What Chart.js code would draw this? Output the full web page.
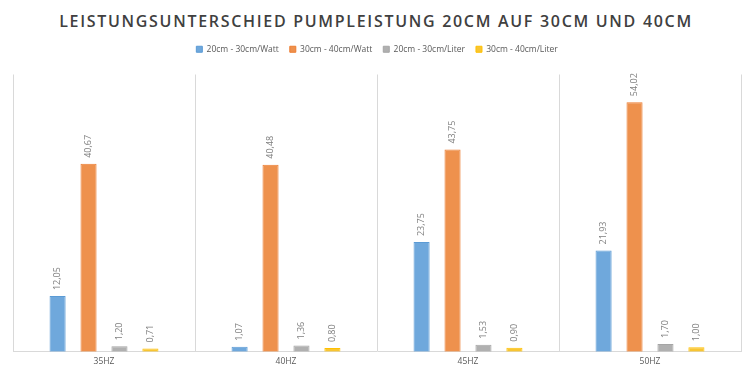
<!DOCTYPE html>
<html>
<head>
<meta charset="utf-8">
<script src="https://cdn.jsdelivr.net/npm/chart.js@4.4.1/dist/chart.umd.min.js"></script>
<style>
  body { margin: 0; background: #fff; }
  #title {
    height: 30px; line-height: 42px; text-align: center;
    font-family: "Open Sans", sans-serif; font-size: 16px; font-weight: 600; letter-spacing: 1.7px;
    color: #404040;
  }
  #wrap { position: relative; width: 752px; height: 342px; }
</style>
</head>
<body>
<div id="title">LEISTUNGSUNTERSCHIED PUMPLEISTUNG 20CM AUF 30CM UND 40CM</div>
<div id="wrap"><canvas id="myChart"></canvas></div>
<script>
const categories = ['35HZ', '40HZ', '45HZ', '50HZ'];
const seriesNames = ['20cm - 30cm/Watt', '30cm - 40cm/Watt', '20cm - 30cm/Liter', '30cm - 40cm/Liter'];
const watt20_30 = [12.05, 1.07, 23.75, 21.93];
const watt30_40 = [40.67, 40.48, 43.75, 54.02];
const liter20_30 = [1.20, 1.36, 1.53, 1.70];
const liter30_40 = [0.71, 0.80, 0.90, 1.00];
const fills = ['#6FA8DC', '#EE914D', '#B0B0B0', '#F8C532'];
const borders = ['#5B9BD5', '#ED7D31', '#A5A5A5', '#FFC000'];

// values above bars, rotated, with german comma
const barLabels = {
  id: 'barLabels',
  afterDatasetsDraw(chart) {
    const ctx = chart.ctx;
    ctx.save();
    ctx.font = '9px "Open Sans", sans-serif';
    ctx.fillStyle = '#7f7f7f';
    ctx.textAlign = 'left';
    ctx.textBaseline = 'middle';
    chart.data.datasets.forEach((ds, i) => {
      chart.getDatasetMeta(i).data.forEach((bar, j) => {
        ctx.save();
        ctx.translate(bar.x, bar.y - 6);
        ctx.rotate(-Math.PI / 2);
        ctx.fillText(ds.data[j].toFixed(2).replace('.', ','), 0, 0);
        ctx.restore();
      });
    });
    ctx.restore();
  }
};

// extra space under the legend
const legendGap = {
  id: 'legendGap',
  beforeInit(chart) {
    const fit = chart.legend.fit;
    chart.legend.fit = function () {
      fit.bind(chart.legend)();
      this.height += 11;
    };
  }
};

const series = [watt20_30, watt30_40, liter20_30, liter30_40];
const dataset = {
  labels: categories,
  datasets: series.map((d, i) => ({
    label: seriesNames[i],
    data: d,
    backgroundColor: fills[i],
    borderColor: borders[i],
    borderWidth: 1,
    categoryPercentage: 0.68,
    barPercentage: 0.52
  }))
};

const config = {
  type: 'bar',
  data: dataset,
  options: {
    responsive: true,
    maintainAspectRatio: false,
    animation: false,
    layout: { padding: { left: 13, right: 11, top: 4, bottom: 0 } },
    plugins: {
      tooltip: { enabled: false },
      legend: {
        position: 'top',
        labels: {
          boxWidth: 6, boxHeight: 6, padding: 11,
          color: '#595959',
          font: { family: '"Open Sans", sans-serif', size: 8.5 }
        }
      }
    },
    scales: {
      x: {
        grid: { offset: true, color: '#d9d9d9', drawTicks: false },
        border: { color: '#d9d9d9' },
        ticks: { color: '#595959', padding: 5, font: { family: '"Open Sans", sans-serif', size: 8.5 } }
      },
      y: { display: false, min: 0, max: 60 }
    }
  },
  plugins: [barLabels, legendGap]
};
new Chart(document.getElementById('myChart'), config);
</script>
</body>
</html>
